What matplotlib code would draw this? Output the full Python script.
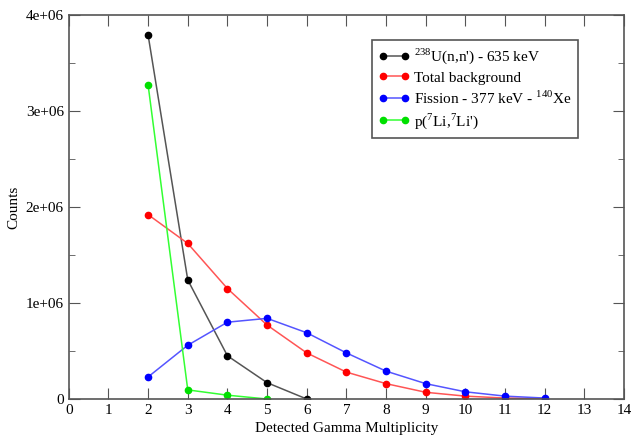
import matplotlib
matplotlib.use("Agg")
import matplotlib.pyplot as plt
from matplotlib.ticker import MultipleLocator

plt.rcParams['font.family'] = ['Liberation Serif', 'DejaVu Serif']
plt.rcParams['mathtext.fontset'] = 'custom'
plt.rcParams['mathtext.rm'] = 'Liberation Serif'

x_u = [2, 3, 4, 5, 6]
y_u = [3.79e6, 1.24e6, 0.45e6, 0.17e6, 0.0]

x_bg = [2, 3, 4, 5, 6, 7, 8, 9, 10, 11, 12]
y_bg = [1.92e6, 1.62e6, 1.15e6, 0.77e6, 0.48e6, 0.28e6, 0.16e6, 0.07e6, 0.03e6, 0.01e6, 0.005e6]

x_fis = [2, 3, 4, 5, 6, 7, 8, 9, 10, 11, 12]
y_fis = [0.23e6, 0.56e6, 0.80e6, 0.84e6, 0.69e6, 0.48e6, 0.29e6, 0.16e6, 0.075e6, 0.03e6, 0.01e6]

x_li = [2, 3, 4, 5]
y_li = [3.27e6, 0.095e6, 0.04e6, 0.0]

labels = [r"$^{238}$U(n,n') - 635 keV", "Total background",
          r"Fission - 377 keV - $^{140}$Xe", r"p($^{7}$Li,$^{7}$Li')"]
xticks = list(range(0, 15))
yticks = [0, 1e6, 2e6, 3e6, 4e6]
yticklabels = ["0", "1e+06", "2e+06", "3e+06", "4e+06"]

fig = plt.figure(figsize=(6.31, 4.38), dpi=100)
ax = fig.add_axes([0.109, 0.089, 0.880, 0.877])

series = [(x_u, y_u, 'black', '#555555'), (x_bg, y_bg, 'red', '#ff5555'),
          (x_fis, y_fis, 'blue', '#5555ff'), (x_li, y_li, '#00e000', '#33ff33')]
for (xs, ys, mc, lc), lab in zip(series, labels):
    ax.plot(xs, ys, '-', color=lc, lw=1.1, marker='o', ms=4.5,
            markerfacecolor=mc, markeredgecolor=mc, label=lab)

ax.set_xlim(0, 14)
ax.set_ylim(0, 4e6)
ax.set_xticks(xticks)
ax.set_yticks(yticks)
ax.set_yticklabels(yticklabels)
ax.yaxis.set_minor_locator(MultipleLocator(0.5e6))
ax.tick_params(which='both', direction='in', top=True, right=True,
               labelsize=11, color='#555555')
ax.tick_params(which='major', length=8)
ax.tick_params(which='minor', length=4)
for s in ax.spines.values():
    s.set_color('#555555')
    s.set_linewidth(1.2)

ax.set_xlabel("Detected Gamma Multiplicity", fontsize=11)
ax.set_ylabel("Counts", fontsize=11)

leg = ax.legend(loc='upper left', bbox_to_anchor=(0.546, 0.935), fontsize=11,
                numpoints=2, handlelength=2.0, handletextpad=0.3,
                labelspacing=0.3, fancybox=False, framealpha=1,
                borderpad=0.45, borderaxespad=0)
leg.get_frame().set_edgecolor('#555555')
leg.get_frame().set_linewidth(1.2)

fig.savefig("out.png", dpi=100)
